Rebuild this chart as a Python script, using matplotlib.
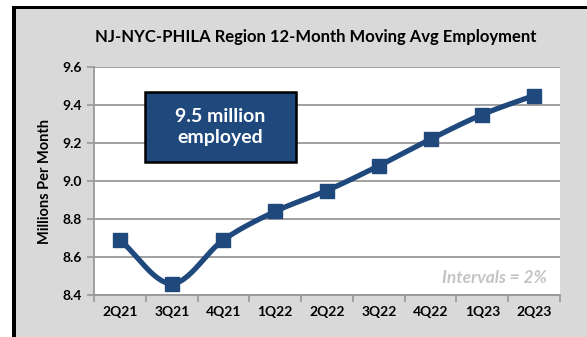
import numpy as np
import matplotlib.pyplot as plt
from matplotlib.patches import Rectangle

# Quarterly 12-month moving average employment, millions
quarters = ['2Q21', '3Q21', '4Q21', '1Q22', '2Q22', '3Q22', '4Q22', '1Q23', '2Q23']
employment = [8.69, 8.46, 8.69, 8.84, 8.95, 9.08, 9.22, 9.35, 9.45]
y_ticks = [8.4, 8.6, 8.8, 9.0, 9.2, 9.4, 9.6]

navy = '#1F497D'
grid_gray = '#989898'
panel_gray = '#D9D9D9'

plt.rcParams['font.family'] = ['Lato', 'DejaVu Sans']


def smooth(x, y, steps=30):
    # Catmull-Rom style curve through the points, like a smoothed line chart
    x = np.asarray(x, float)
    y = np.asarray(y, float)
    px = np.concatenate([[2 * x[0] - x[1]], x, [2 * x[-1] - x[-2]]])
    py = np.concatenate([[2 * y[0] - y[1]], y, [2 * y[-1] - y[-2]]])
    xs, ys = [], []
    t = np.linspace(0, 1, steps)
    for i in range(1, len(px) - 2):
        p0, p1, p2, p3 = py[i - 1], py[i], py[i + 1], py[i + 2]
        q0, q1, q2, q3 = px[i - 1], px[i], px[i + 1], px[i + 2]
        # cubic bezier with tangents scaled by 1/6
        b1y = p1 + (p2 - p0) / 6
        b2y = p2 - (p3 - p1) / 6
        b1x = q1 + (q2 - q0) / 6
        b2x = q2 - (q3 - q1) / 6
        xs.append((1 - t)**3 * q1 + 3 * (1 - t)**2 * t * b1x + 3 * (1 - t) * t**2 * b2x + t**3 * q2)
        ys.append((1 - t)**3 * p1 + 3 * (1 - t)**2 * t * b1y + 3 * (1 - t) * t**2 * b2y + t**3 * p2)
    return np.concatenate(xs), np.concatenate(ys)


fig = plt.figure(figsize=(5.87, 3.37), dpi=100)
fig.patch.set_facecolor('white')

W, H = 587.0, 337.0
# gray panel with heavy black frame on top and left
fig.patches.append(Rectangle((16 / W, 0), 1, 1 - 9 / H, transform=fig.transFigure,
                             facecolor=panel_gray, edgecolor='none', zorder=-3))
fig.patches.append(Rectangle((12 / W, 0), 4 / W, 1 - 6 / H, transform=fig.transFigure,
                             facecolor='black', edgecolor='none', zorder=-2))
fig.patches.append(Rectangle((12 / W, 1 - 9 / H), 1, 3 / H, transform=fig.transFigure,
                             facecolor='black', edgecolor='none', zorder=-2))

ax = fig.add_axes([94 / W, 42 / H, (560 - 94) / W, (295 - 67) / H])
ax.set_facecolor('white')

xs = np.arange(len(quarters))
cx, cy = smooth(xs, employment)
ax.plot(cx, cy, color=navy, lw=3.8, solid_capstyle='round', zorder=3)
ax.plot(xs, employment, linestyle='none', marker='s', markersize=10,
        color=navy, zorder=4)

ax.set_xlim(-0.5, len(quarters) - 0.5)
ax.set_ylim(8.4, 9.6)
ax.set_yticks(y_ticks)
ax.set_yticklabels([f'{v:.1f}' for v in y_ticks], fontsize=10, fontweight='bold')
ax.set_xticks(xs)
ax.set_xticklabels(quarters, fontsize=10, fontweight='bold')
ax.set_xticks(np.arange(-0.5, len(quarters)), minor=True)
ax.tick_params(axis='x', which='major', length=0, pad=8)
ax.tick_params(axis='x', which='minor', length=5, width=1.2, color=grid_gray)
ax.tick_params(axis='y', length=5, width=1.2, color=grid_gray, pad=4)

ax.grid(axis='y', color=grid_gray, lw=1.3)
ax.set_axisbelow(True)
for side in ['top', 'right']:
    ax.spines[side].set_visible(False)
for side in ['left', 'bottom']:
    ax.spines[side].set_color(grid_gray)
    ax.spines[side].set_linewidth(1.3)

ax.set_ylabel('Millions Per Month', fontsize=10.5, fontweight='bold', labelpad=7)

fig.text(316 / W, 1 - 37 / H, 'NJ-NYC-PHILA Region 12-Month Moving Avg Employment',
         ha='center', va='center', fontsize=12, fontweight='bold')

ax.text(0.972, 0.075, 'Intervals = 2%', transform=ax.transAxes, ha='right', va='center',
        fontsize=12.5, fontweight='bold', style='italic', color='#C4C4C4')

# callout box
ax.add_patch(Rectangle((0.109, 0.583), 0.324, 0.307, transform=ax.transAxes,
                       facecolor=navy, edgecolor='black', lw=1.8, zorder=5))
ax.text(0.271, 0.737, '9.5 million\nemployed', transform=ax.transAxes,
        ha='center', va='center', fontsize=14, fontweight='bold', color='white',
        linespacing=1.3, zorder=6)

fig.savefig('out.png', dpi=100)
